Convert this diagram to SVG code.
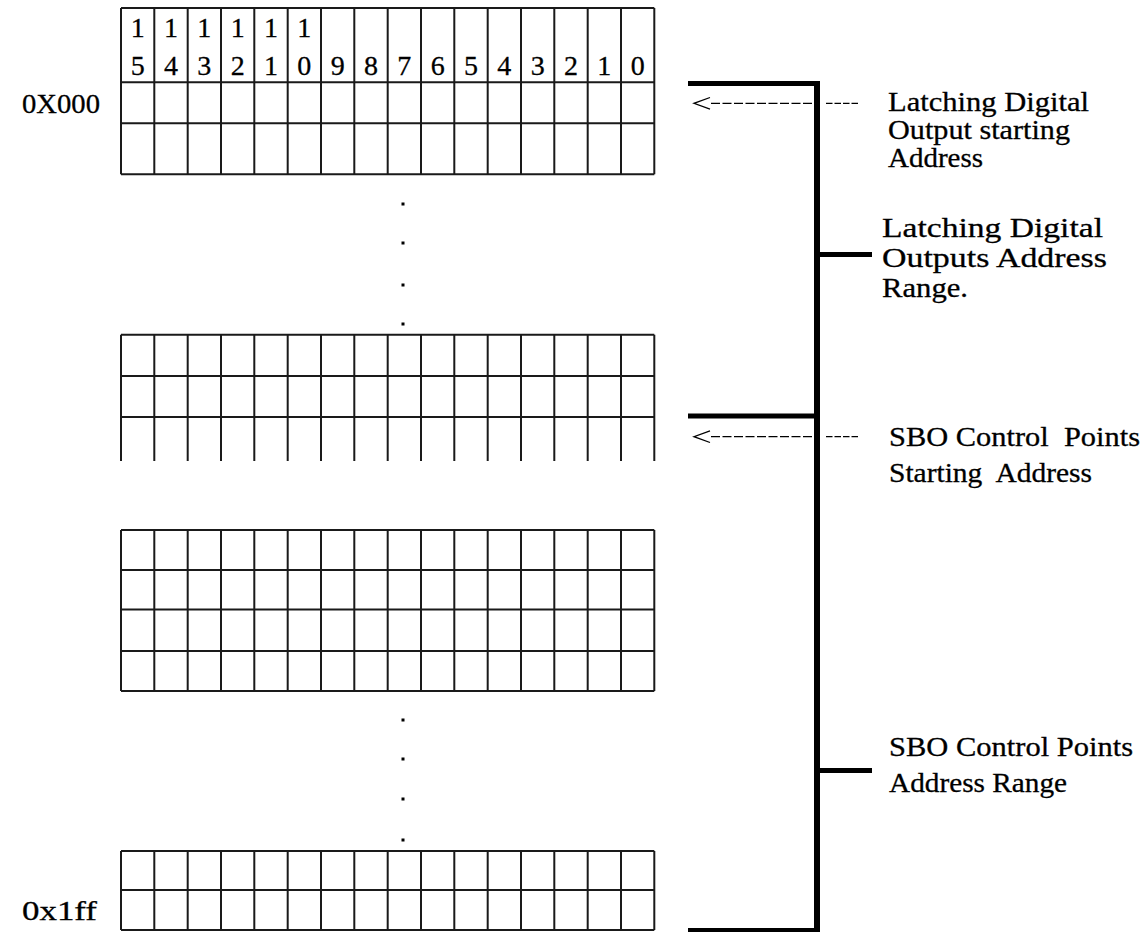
<svg xmlns="http://www.w3.org/2000/svg" width="1147" height="932" viewBox="0 0 1147 932">
<style>
.g{stroke:#1a1a1a;stroke-width:2;fill:none}
.t{font-family:"Liberation Serif","Times New Roman",serif;font-size:28px;fill:#000;stroke:#000;stroke-width:0.3}
.d{font-family:"Liberation Serif","Times New Roman",serif;font-size:28px;fill:#000;stroke:#000;stroke-width:0.3;text-anchor:middle}
.b{stroke:#000;stroke-width:6;fill:none}
.h{stroke:#000;stroke-width:5;fill:none}
.dash{stroke:#000;stroke-width:1.3;fill:none}
</style>
<defs>
<g id="cols">
<path d="M121,0V1M154.3,0V1M187.7,0V1M221,0V1M254.3,0V1M287.7,0V1M321,0V1M354.3,0V1M387.7,0V1M421,0V1M454.3,0V1M487.7,0V1M521,0V1M554.3,0V1M587.7,0V1M621,0V1M654.3,0V1"/>
</g>
</defs>
<g id="top-grid">
<use href="#cols" class="g" transform="translate(0,8) scale(1,166.3)" style="vector-effect:non-scaling-stroke"/>
<path class="g" d="M121,8H654.3M121,82.3H654.3M121,123.3H654.3M121,174.3H654.3"/>
<g class="d">
<text x="137.7" y="37">1</text><text x="171" y="37">1</text><text x="204.3" y="37">1</text><text x="237.7" y="37">1</text><text x="271" y="37">1</text><text x="304.3" y="37">1</text>
<text x="137.7" y="75">5</text><text x="171" y="75">4</text><text x="204.3" y="75">3</text><text x="237.7" y="75">2</text><text x="271" y="75">1</text><text x="304.3" y="75">0</text>
<text x="337.7" y="75">9</text><text x="371" y="75">8</text><text x="404.3" y="75">7</text><text x="437.7" y="75">6</text><text x="471" y="75">5</text><text x="504.3" y="75">4</text>
<text x="537.7" y="75">3</text><text x="571" y="75">2</text><text x="604.3" y="75">1</text><text x="637.7" y="75">0</text>
</g>
</g>
<g id="mid-grid">
<use href="#cols" class="g" transform="translate(0,334.7) scale(1,126.3)" style="vector-effect:non-scaling-stroke"/>
<path class="g" d="M121,334.7H654.3M121,376H654.3M121,417H654.3"/>
</g>
<g id="lower-grid">
<use href="#cols" class="g" transform="translate(0,530) scale(1,161)" style="vector-effect:non-scaling-stroke"/>
<path class="g" d="M121,530H654.3M121,570H654.3M121,609.5H654.3M121,651H654.3M121,691H654.3"/>
</g>
<g id="bottom-grid">
<use href="#cols" class="g" transform="translate(0,851) scale(1,79)" style="vector-effect:non-scaling-stroke"/>
<path class="g" d="M121,851H654.3M121,890H654.3M121,930H654.3"/>
</g>
<g id="dots" fill="#000">
<rect x="401.5" y="202.5" width="3" height="3"/><rect x="401.5" y="241.5" width="3" height="3"/><rect x="401.5" y="283.5" width="3" height="3"/><rect x="401.5" y="322.5" width="3" height="3"/>
<rect x="401.5" y="718.5" width="3" height="3"/><rect x="401.5" y="757.5" width="3" height="3"/><rect x="401.5" y="797.5" width="3" height="3"/><rect x="401.5" y="838.5" width="3" height="3"/>
</g>
<g id="addr-labels" class="t">
<text x="22" y="113" textLength="78" lengthAdjust="spacingAndGlyphs">0X000</text>
<text x="22" y="920" textLength="75" lengthAdjust="spacingAndGlyphs">0x1ff</text>
</g>
<g id="connectors">
<path class="b" d="M817,81V932"/>
<path class="h" d="M688,83.5H819.5M688,416H819.5M688,930.5H819.5M819.5,254.5H872M819.5,770.5H872"/>
<path class="dash" d="M711,103.3H814" stroke-dasharray="9 2.5"/>
<path class="dash" d="M826,103.3H860" stroke-dasharray="6.5 2"/>
<path class="dash" d="M711,436.7H814" stroke-dasharray="9 2.5"/>
<path class="dash" d="M826,436.7H860" stroke-dasharray="6.5 2"/>
<path class="dash" d="M710,97.5L694,103.3L710,109.1"/>
<path class="dash" d="M710,430.9L694,436.7L710,442.5"/>
</g>
<g id="label-latch-start" class="t">
<text x="888" y="111" textLength="201" lengthAdjust="spacingAndGlyphs">Latching Digital</text>
<text x="888" y="139" textLength="182" lengthAdjust="spacingAndGlyphs">Output starting</text>
<text x="888" y="167" textLength="95" lengthAdjust="spacingAndGlyphs">Address</text>
</g>
<g id="label-latch-range" class="t">
<text x="882" y="237" textLength="221" lengthAdjust="spacingAndGlyphs">Latching Digital</text>
<text x="882" y="267" textLength="225" lengthAdjust="spacingAndGlyphs">Outputs Address</text>
<text x="882" y="297" textLength="86" lengthAdjust="spacingAndGlyphs">Range.</text>
</g>
<g id="label-sbo-start" class="t">
<text x="889" y="446" xml:space="preserve" textLength="251" lengthAdjust="spacingAndGlyphs">SBO Control  Points</text>
<text x="889" y="482" xml:space="preserve" textLength="203" lengthAdjust="spacingAndGlyphs">Starting  Address</text>
</g>
<g id="label-sbo-range" class="t">
<text x="889" y="756" textLength="244" lengthAdjust="spacingAndGlyphs">SBO Control Points</text>
<text x="889" y="792" textLength="178" lengthAdjust="spacingAndGlyphs">Address Range</text>
</g>
</svg>
